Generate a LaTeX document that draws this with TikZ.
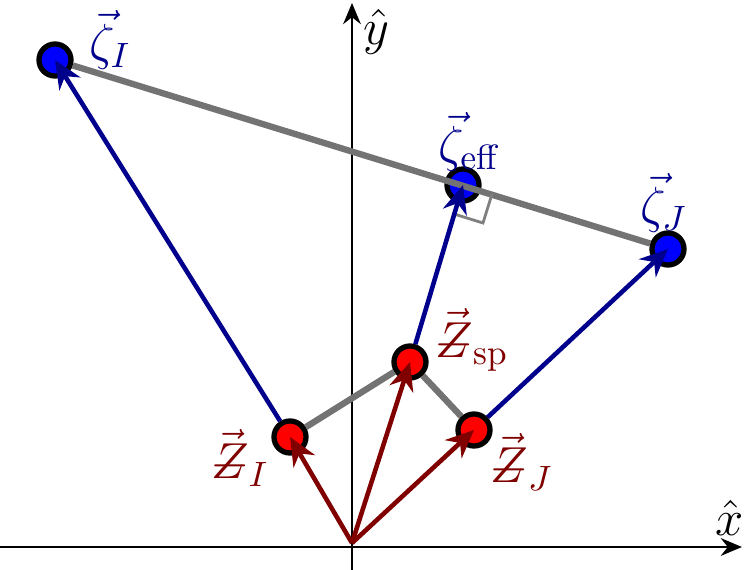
\documentclass[tikz,border=0pt]{standalone}
\usetikzlibrary{arrows.meta}
\newcommand{\Zbar}{\ooalign{$Z$\cr\hidewidth$-$\hidewidth\cr}}
\tikzset{
  bluept/.style={circle, draw=black, line width=1.5pt, fill=blue, minimum size=0.32cm, inner sep=0pt},
  redpt/.style={circle, draw=black, line width=1.5pt, fill=red, minimum size=0.32cm, inner sep=0pt},
  redvec/.style={draw=red!50!black, line width=1.3pt, -{Stealth[length=8pt,width=7pt]}},
  bluevec/.style={draw=blue!55!black, line width=1.3pt, -{Stealth[length=8pt,width=7pt]}},
  grayline/.style={draw=gray!110, line width=1.8pt},
  axis/.style={line width=0.8pt, -{Stealth[length=6pt,width=5pt]}}
}
\begin{document}
\begin{tikzpicture}[x=0.01cm, y=-0.01cm, font=\Large]
\useasboundingbox (0,0) rectangle (748,570);
% axes
\coordinate (o) at (352,543);
\coordinate (xl) at (0,547);
\coordinate (xr) at (742,547);
\coordinate (yb) at (352,570);
\coordinate (yt) at (352,3);
\draw[axis] (xl) -- (xr);
\draw[axis] (yb) -- (yt);
\node (xhat) at (730,518) {$\hat{x}$};
\node (yhat) at (376,32) {$\hat{y}$};

% points
\node[bluept] (zi) at (55,60) {};
\node[bluept] (zeff) at (463,185) {};
\node[bluept] (zj) at (668,249) {};
\node[redpt] (ri) at (290,437) {};
\node[redpt] (rsp) at (410,362) {};
\node[redpt] (rj) at (474,430) {};

% gray lines
\draw[grayline] (zi) -- (zj);
\draw[grayline] (ri) -- (rsp) -- (rj);
\draw[gray, line width=0.8pt] (492,194) -- (483,223) -- (454,214);

% vectors
\draw[redvec] (o) -- (ri.center);
\draw[redvec] (o) -- (rsp.center);
\draw[redvec] (o) -- (rj.center);
\draw[bluevec] (ri) -- (zi.center);
\draw[bluevec] (rsp) -- (zeff.center);
\draw[bluevec] (rj) -- (zj.center);

% labels
\node[text=blue!55!black] (lzi) at (110,40) {$\vec{\zeta}_I$};
\node[text=blue!55!black] (lzeff) at (470,142) {$\vec{\zeta}_{\mathrm{eff}}$};
\node[text=blue!55!black] (lzj) at (664,203) {$\vec{\zeta}_J$};
\node[text=red!50!black] (lri) at (240,458) {$\vec{\Zbar}_I$};
\node[text=red!50!black] (lrsp) at (472,340) {$\vec{\Zbar}_{\mathrm{sp}}$};
\node[text=red!50!black] (lrj) at (522,462) {$\vec{\Zbar}_J$};
\end{tikzpicture}
\end{document}
